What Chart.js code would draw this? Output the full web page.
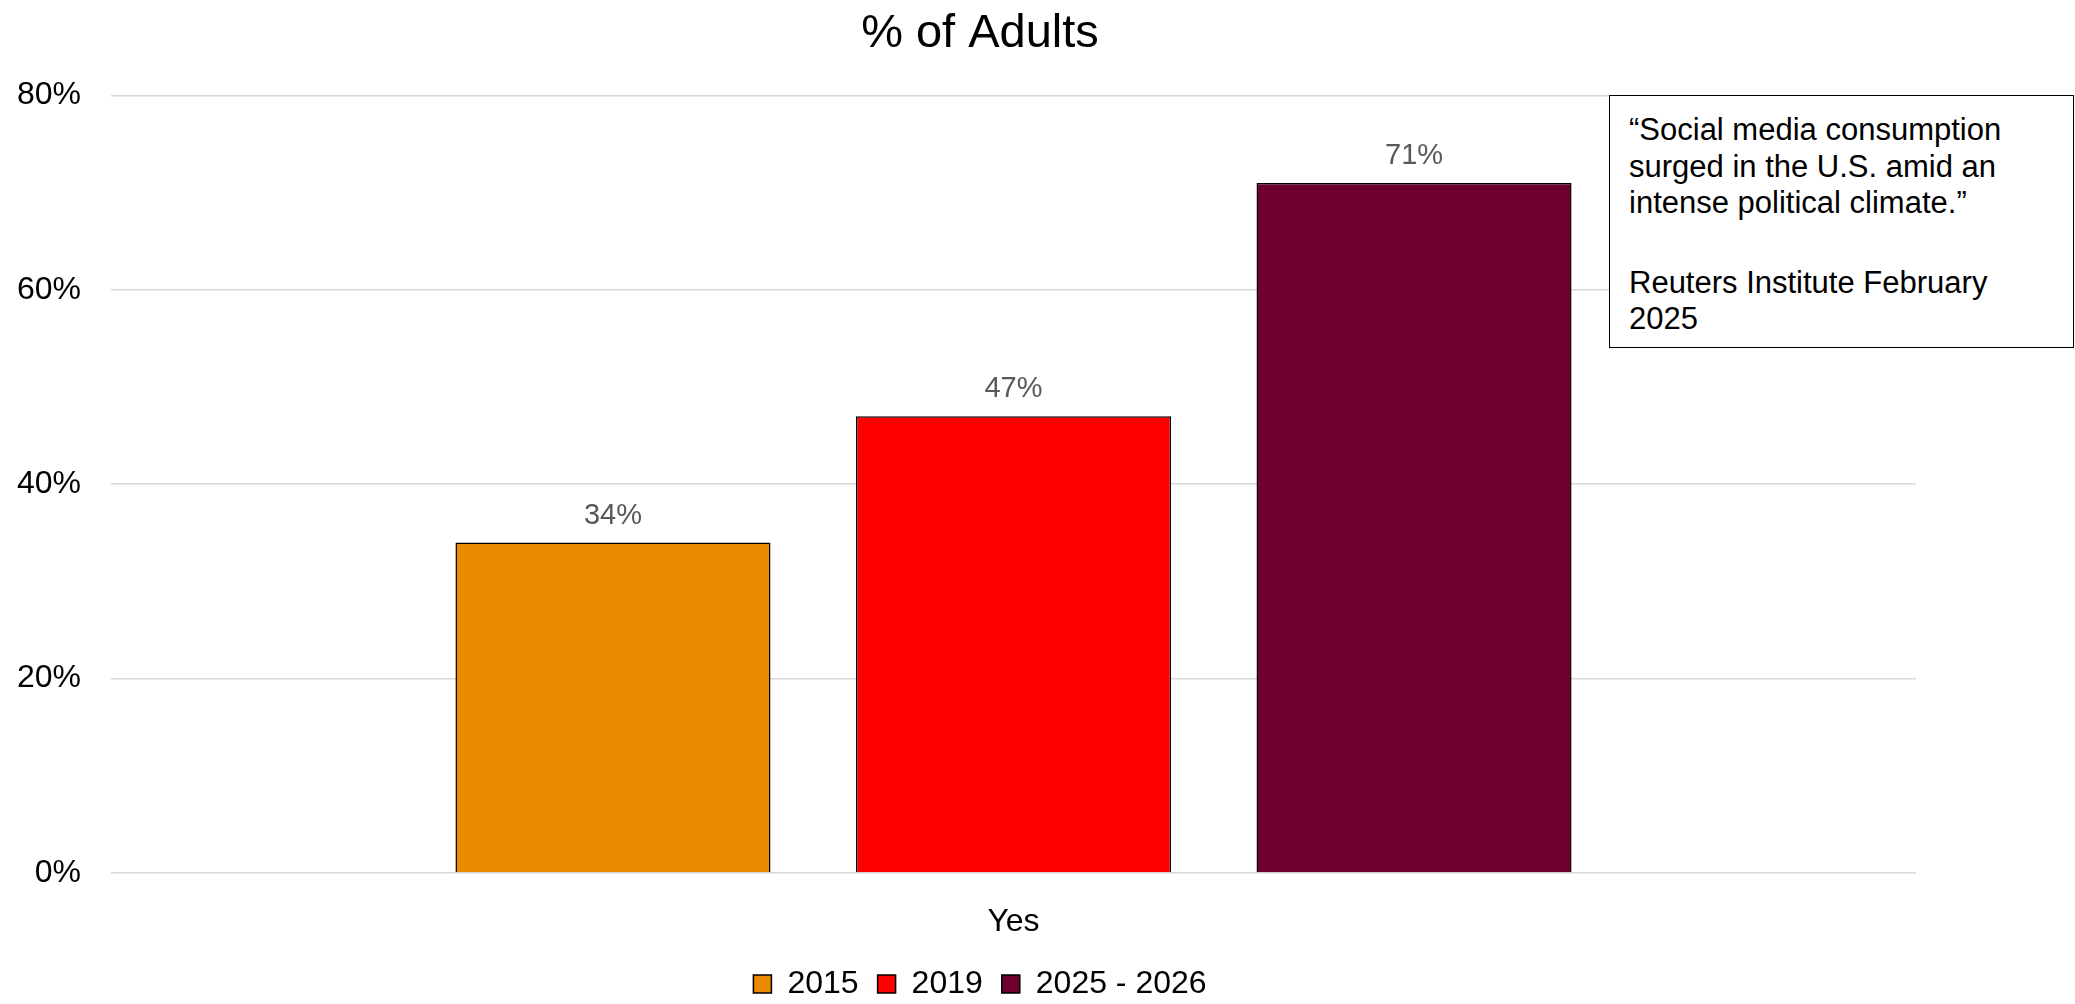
<!DOCTYPE html>
<html>
<head>
<meta charset="utf-8">
<title>% of Adults</title>
<script src="https://cdn.jsdelivr.net/npm/chart.js@4"></script>
<style>
    body { margin: 0; background: #fff; }
    #wrap { position: relative; width: 2075px; height: 1004px; }
    #quote {
        position: absolute;
        left: 1609px;
        top: 95px;
        width: 465px;
        height: 253px;
        box-sizing: border-box;
        border: 1.5px solid #000;
        background: #fff;
        padding: 16px 0 0 19px;
        font-family: "Liberation Sans", Arial, sans-serif;
        font-size: 31px;
        line-height: 36.5px;
        color: #000;
    }
    #quote p { margin: 0; }
    #quote p.source { margin-top: 43px; }
</style>
</head>
<body>
<div id="wrap">
    <canvas id="chart"></canvas>
    <div id="quote">
        <p>“Social media consumption<br>surged in the U.S. amid an<br>intense political climate.”</p>
        <p class="source">Reuters Institute February<br>2025</p>
    </div>
</div>
<script>
// --- Data ---
const categories = ['Yes'];
const seriesNames = ['2015', '2019', '2025 - 2026'];
const values2015 = [34];
const values2019 = [47];
const values2025 = [71];
const yTicks = [0, 20, 40, 60, 80];

const FONT = '"Liberation Sans", Arial, sans-serif';

// Draws the % value above each bar
const valueLabels = {
    id: 'valueLabels',
    afterDatasetsDraw(chart) {
        const ctx = chart.ctx;
        ctx.save();
        ctx.font = '29px ' + FONT;
        ctx.fillStyle = '#595959';
        ctx.textAlign = 'center';
        ctx.textBaseline = 'alphabetic';
        chart.data.datasets.forEach((ds, i) => {
            chart.getDatasetMeta(i).data.forEach((bar, j) => {
                ctx.fillText(ds.data[j] + '%', bar.x, bar.y - 19);
            });
        });
        ctx.restore();
    }
};

const barStyle = {
    borderColor: '#000',
    borderWidth: 1.5,
    categoryPercentage: 0.6657,
    barPercentage: 0.7865
};

new Chart(document.getElementById('chart'), {
    type: 'bar',
    data: {
        labels: categories,
        datasets: [
            { label: seriesNames[0], data: values2015, backgroundColor: '#EB8A00', ...barStyle },
            { label: seriesNames[1], data: values2019, backgroundColor: '#FF0000', ...barStyle },
            { label: seriesNames[2], data: values2025, backgroundColor: '#6E0030', ...barStyle }
        ]
    },
    options: {
        responsive: true,
        maintainAspectRatio: false,
        animation: false,
        layout: { padding: { top: 0, right: 115, bottom: -6, left: 0 } },
        plugins: {
            title: {
                display: true,
                text: '% of Adults',
                color: '#000',
                font: { family: FONT, size: 47, weight: 'normal' },
                padding: { top: 6, bottom: 33 }
            },
            legend: {
                position: 'bottom',
                labels: {
                    color: '#000',
                    font: { family: FONT, size: 32 },
                    boxWidth: 18,
                    boxHeight: 18,
                    padding: 19
                }
            },
            tooltip: { enabled: false }
        },
        scales: {
            x: {
                grid: { display: false },
                border: { display: false },
                ticks: { color: '#000', font: { family: FONT, size: 32 }, padding: 22 },
                afterFit: (scale) => { scale.height = 76; }
            },
            y: {
                min: 0,
                max: 80,
                afterBuildTicks: (scale) => { scale.ticks = yTicks.map(v => ({ value: v })); },
                grid: { color: '#d9d9d9', lineWidth: 1.5, drawTicks: false },
                border: { display: false },
                ticks: {
                    color: '#000',
                    font: { family: FONT, size: 32 },
                    padding: 30,
                    callback: (v) => v + '%'
                },
                afterFit: (scale) => { scale.width = 111; }
            },
            // empty axis that keeps the plot clear of the quote box
            yRight: {
                position: 'right',
                grid: { display: false },
                border: { display: false },
                ticks: { display: false },
                afterFit: (scale) => { scale.width = 44; }
            }
        }
    },
    plugins: [valueLabels]
});
</script>
</body>
</html>
